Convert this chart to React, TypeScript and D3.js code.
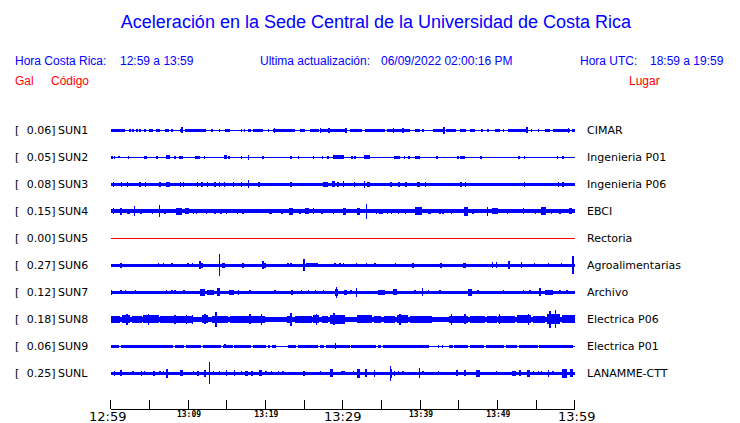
import React from "react";
import * as d3 from "d3";

type Seg = [number, number, number]; // [start minute, end minute, half-amplitude in Gal]

const STATIONS = ["SUN1", "SUN2", "SUN3", "SUN4", "SUN5", "SUN6", "SUN7", "SUN8", "SUN9", "SUNL"];
const PEAKS = ["0.06", "0.05", "0.08", "0.15", "0.00", "0.27", "0.12", "0.18", "0.06", "0.25"];
const PLACES = ["CIMAR", "Ingenieria P01", "Ingenieria P06", "EBCI", "Rectoria", "Agroalimentarias", "Archivo", "Electrica P06", "Electrica P01", "LANAMME-CTT"];
const BASE_AMP = [0.013, 0.013, 0.043, 0.05, 0, 0.043, 0.043, 0.07, 0.018, 0.043];

const SUN1: Seg[] = [[0,1.85,0.033],[2.5,2.5,0.033],[2.9,2.9,0.033],[3.4,3.4,0.033],[3.8,3.8,0.033],[4.35,4.4,0.033],[4.9,5.5,0.033],[5.9,6.4,0.033],[7.0,7.5,0.033],[7.9,7.9,0.033],[9.0,9.4,0.033],[9.2,9.2,0.075],[9.6,12.0,0.033],[12.2,12.2,0.033],[13.1,13.1,0.033],[14.1,14.1,0.033],[14.8,15.4,0.033],[16.9,16.9,0.033],[17.3,17.3,0.033],[17.7,18.2,0.033],[18.4,19.7,0.033],[20.4,20.4,0.033],[21.0,23.8,0.033],[21.2,21.2,0.063],[24.5,25.1,0.033],[25.8,26.9,0.033],[27.1,30.3,0.033],[27.1,27.1,0.063],[28.2,28.2,0.063],[30.4,30.4,0.063],[30.9,32.5,0.033],[32.9,35.5,0.033],[35.7,38.7,0.033],[36.6,36.6,0.063],[37.8,37.8,0.063],[39.4,40.0,0.033],[40.4,40.4,0.033],[41.7,43.0,0.033],[43.1,43.1,0.088],[43.4,44.7,0.033],[45.2,46.0,0.033],[46.5,47.1,0.033],[48.0,48.0,0.033],[48.8,48.8,0.033],[49.7,50.3,0.033],[50.8,50.8,0.033],[51.4,53.7,0.033],[53.8,53.8,0.075],[54.4,54.4,0.033],[55.3,55.3,0.033],[56.2,56.8,0.033],[57.2,59.4,0.033],[59.2,59.2,0.063],[59.6,60,0.033]];
const SUN2: Seg[] = [[0.2,0.2,0.033],[0.5,0.5,0.033],[1.1,1.1,0.025],[2.3,2.3,0.033],[4.35,4.65,0.033],[6.0,6.0,0.033],[7.1,7.7,0.05],[8.3,8.3,0.033],[8.8,9.4,0.033],[10.9,11.55,0.033],[12.1,12.1,0.033],[14.6,15.0,0.05],[15.3,15.3,0.033],[16.9,16.9,0.033],[17.8,17.8,0.063],[19.7,19.7,0.033],[23.3,23.3,0.033],[24.3,24.3,0.033],[26.2,26.2,0.033],[27.4,27.4,0.033],[28.1,28.1,0.033],[28.7,30.2,0.05],[31.2,31.2,0.033],[31.6,31.6,0.033],[32.7,33.5,0.05],[36.6,37.4,0.033],[38.0,38.0,0.033],[38.6,38.6,0.033],[39.4,40.0,0.033],[42.2,42.2,0.033],[44.9,44.9,0.033],[45.2,45.8,0.033],[47.9,47.9,0.033],[52.8,52.8,0.033],[53.5,53.5,0.033],[57.8,57.8,0.033],[58.5,58.5,0.033]];
const SUN3: Seg[] = [[0.35,0.35,0.063],[1.4,1.4,0.063],[2.2,2.2,0.063],[3.8,3.8,0.063],[4.5,4.5,0.063],[6.2,6.5,0.063],[7.2,7.7,0.063],[9.0,9.0,0.063],[9.4,9.4,0.063],[11.25,11.25,0.063],[11.8,11.8,0.063],[12.5,12.5,0.063],[13.5,13.5,0.063],[14.1,14.1,0.063],[14.6,14.8,0.063],[15.9,15.9,0.063],[16.9,16.9,0.063],[17.8,17.8,0.1],[19.2,19.2,0.063],[23.3,23.3,0.063],[27.5,28.1,0.063],[28.6,29.0,0.075],[29.4,29.4,0.063],[30.0,30.2,0.075],[31.5,31.5,0.063],[32.8,32.8,0.088],[33.1,33.5,0.063],[36.25,36.25,0.063],[37.2,37.4,0.063],[38.0,38.3,0.063],[39.6,40.0,0.063],[40.7,40.7,0.063],[45.3,45.3,0.063],[45.9,45.9,0.063],[53.5,53.5,0.063],[57.9,57.9,0.063],[58.5,58.5,0.063]];
const SUN4: Seg[] = [[0.35,0.35,0.075],[1.2,1.5,0.088],[2.1,2.5,0.063],[3.1,3.1,0.125],[3.9,3.9,0.063],[5.4,5.4,0.063],[6.3,6.3,0.15],[7.0,7.0,0.063],[8.5,9.2,0.088],[9.6,10.1,0.075],[10.7,10.7,0.063],[11.1,11.1,0.063],[12.4,12.4,0.063],[13.5,13.5,0.063],[14.1,14.4,0.063],[15.0,15.0,0.063],[16.4,16.4,0.063],[17.1,17.1,0.063],[20.6,20.6,0.063],[20.8,20.8,0.063],[22.0,22.3,0.063],[23.1,23.6,0.088],[24.5,24.5,0.063],[25.1,25.6,0.075],[26.2,26.2,0.075],[27.3,27.3,0.063],[28.8,28.8,0.063],[30.1,30.4,0.088],[31.8,32.2,0.088],[33.1,33.1,0.188],[34.4,34.4,0.063],[34.8,34.8,0.063],[35.1,35.1,0.063],[35.8,35.8,0.063],[36.3,36.3,0.063],[37.2,37.2,0.063],[38.1,38.1,0.063],[39.35,40.2,0.1],[41.0,41.4,0.063],[42.6,42.6,0.063],[43.0,43.0,0.063],[44.1,44.1,0.063],[45.7,46.25,0.113],[46.7,47.0,0.063],[48.75,48.75,0.113],[49.3,50.1,0.075],[51.3,51.3,0.063],[53.4,53.4,0.075],[54.9,54.9,0.063],[55.7,56.25,0.1],[57.0,57.0,0.063],[58.1,58.1,0.063],[59.2,59.6,0.075]];
const SUN5: Seg[] = [];
const SUN6: Seg[] = [[1.3,1.3,0.063],[6.2,6.2,0.05],[6.8,6.8,0.05],[7.9,7.9,0.05],[10.0,10.0,0.05],[10.6,10.6,0.05],[11.55,11.55,0.1],[11.8,11.8,0.063],[14.1,14.1,0.275],[14.45,14.8,0.063],[17.1,17.1,0.063],[19.7,19.7,0.1],[19.95,19.95,0.063],[22.9,22.9,0.05],[23.3,23.3,0.05],[24.9,25.1,0.15],[25.3,26.85,0.05],[29.0,29.0,0.05],[29.65,29.65,0.05],[30.1,30.1,0.05],[31.8,31.8,0.05],[33.1,33.1,0.05],[34.2,34.2,0.05],[36.85,36.85,0.05],[39.0,39.2,0.063],[42.7,42.7,0.063],[45.6,45.9,0.063],[49.35,49.35,0.075],[49.9,49.9,0.075],[51.5,51.5,0.1],[53.15,53.15,0.075],[54.8,54.8,0.05],[56.6,56.6,0.05],[58.3,58.3,0.05],[59.8,59.8,0.225]];
const SUN7: Seg[] = [[0.1,0.1,0.063],[1.3,1.3,0.05],[1.9,1.9,0.05],[3.2,3.2,0.05],[7.2,7.2,0.05],[7.9,7.9,0.05],[8.3,8.3,0.05],[9.5,9.5,0.05],[11.55,12.2,0.088],[12.4,13.3,0.063],[13.7,14.1,0.1],[15.3,15.9,0.063],[16.4,16.6,0.063],[18.0,18.0,0.05],[21.25,21.25,0.05],[23.3,23.6,0.063],[24.7,24.7,0.05],[25.6,25.6,0.05],[26.5,26.5,0.05],[27.5,27.5,0.05],[29.0,29.4,0.088],[29.2,29.2,0.138],[30.2,30.5,0.063],[31.1,31.1,0.05],[31.8,31.8,0.113],[34.5,35.5,0.063],[36.55,37.0,0.075],[39.35,39.35,0.05],[40.2,40.4,0.1],[41.1,41.1,0.05],[42.6,42.6,0.05],[46.25,46.7,0.088],[47.5,47.5,0.05],[50.8,50.8,0.05],[53.4,53.4,0.05],[54.2,54.2,0.05],[55.5,55.5,0.1],[56.1,57.2,0.063],[58.1,58.1,0.05],[59.0,59.0,0.05]];
const SUN8: Seg[] = [[0,1.2,0.088],[1.4,2.5,0.1],[2.1,2.1,0.138],[2.7,4.0,0.08],[4.2,6.2,0.1],[4.9,4.9,0.138],[6.4,7.9,0.08],[7.9,10.5,0.08],[8.3,8.3,0.113],[9.8,9.8,0.113],[10.6,10.6,0.113],[11.8,12.6,0.1],[12.2,12.2,0.125],[13.1,15.2,0.088],[13.6,13.6,0.188],[15.4,17.4,0.088],[17.4,20.0,0.088],[18.0,18.0,0.125],[19.5,19.5,0.138],[22.8,23.4,0.088],[23.3,23.3,0.163],[23.8,26.0,0.08],[26.2,26.9,0.1],[26.6,26.6,0.138],[27.3,28.1,0.08],[28.4,30.3,0.113],[28.9,28.9,0.15],[31.8,33.75,0.1],[34.0,35.0,0.088],[35.3,36.8,0.08],[37.0,38.5,0.1],[37.4,37.4,0.138],[38.7,41.5,0.088],[43.7,46.25,0.088],[44.1,44.1,0.138],[45.8,45.8,0.125],[46.5,48.4,0.088],[48.6,49.9,0.08],[50.1,52.3,0.088],[50.3,50.3,0.125],[52.5,54.4,0.1],[54.0,54.0,0.138],[54.65,56.2,0.08],[56.4,58.1,0.125],[56.8,56.8,0.213],[57.5,57.5,0.225],[58.3,60,0.1]];
const SUN9: Seg[] = [[0,1.1,0.035],[1.35,8.0,0.035],[8.25,9.5,0.035],[9.75,11.7,0.035],[11.9,14.25,0.035],[14.5,15.8,0.035],[16.0,18.15,0.035],[18.35,20.1,0.035],[20.3,20.65,0.035],[20.8,21.4,0.035],[22.9,24.0,0.035],[24.2,26.8,0.035],[27.0,27.6,0.035],[27.85,30.9,0.035],[31.1,34.3,0.035],[34.5,34.95,0.035],[35.2,41.2,0.035],[43.75,44.2,0.035],[44.4,46.15,0.035],[46.4,48.3,0.035],[48.5,50.9,0.035],[51.1,52.6,0.035],[52.8,55.2,0.035],[55.4,59.75,0.035],[14.8,14.8,0.05],[29.1,29.1,0.075],[42.4,42.4,0.035],[42.9,42.9,0.035]];
const SUNL: Seg[] = [[0.5,0.5,0.063],[1.3,1.3,0.075],[2.9,2.9,0.05],[4.0,4.0,0.063],[4.4,4.4,0.05],[5.5,5.7,0.063],[6.4,6.4,0.05],[6.8,6.8,0.05],[7.3,7.3,0.113],[9.0,9.4,0.075],[10.7,10.7,0.05],[11.1,11.4,0.063],[12.1,12.3,0.088],[12.75,12.75,0.275],[13.3,13.3,0.05],[14.1,14.1,0.05],[15.0,15.0,0.075],[15.9,16.1,0.075],[16.9,16.9,0.05],[17.4,17.8,0.063],[18.2,18.4,0.063],[19.2,19.5,0.075],[20.1,20.1,0.05],[20.8,20.8,0.05],[21.7,21.7,0.05],[22.3,22.3,0.05],[25.0,25.0,0.063],[27.1,27.1,0.05],[28.4,28.7,0.1],[29.9,29.9,0.05],[30.2,30.2,0.05],[31.4,31.4,0.05],[31.8,32.2,0.113],[32.9,33.1,0.1],[34.1,34.1,0.088],[36.1,36.4,0.113],[36.2,36.2,0.188],[36.7,36.7,0.063],[37.2,37.2,0.05],[37.8,37.8,0.05],[39.9,39.9,0.125],[40.4,40.4,0.05],[42.4,42.4,0.05],[44.6,44.95,0.075],[45.8,45.8,0.075],[47.3,47.75,0.088],[49.9,49.9,0.05],[51.85,52.4,0.063],[52.9,52.9,0.075],[53.8,54.2,0.088],[54.65,54.65,0.05],[55.3,55.3,0.05],[55.7,55.7,0.05],[56.6,56.6,0.088],[57.2,57.2,0.05],[58.4,59.0,0.113],[59.4,59.8,0.1]];
const EVENTS: Seg[][] = [SUN1, SUN2, SUN3, SUN4, SUN5, SUN6, SUN7, SUN8, SUN9, SUNL];

const TICK_MINUTES = d3.range(0, 61, 5);
const MAJOR_LABEL_MINUTES = [0, 30, 60];
const MINOR_LABEL_MINUTES = [10, 20, 40, 50];
const START_LOCAL = new Date(2022, 5, 9, 12, 59);

const TITLE = "Aceleración en la Sede Central de la Universidad de Costa Rica";

export default function App() {
  const W = 740, H = 423;
  const x = d3.scaleLinear().domain([0, 60]).range([110.7, 574.7]);
  const y = d3.scalePoint<string>().domain(STATIONS).range([130.3, 373.3]);
  const a = d3.scaleLinear().domain([0, 0.275]).range([0, 11]);
  const fmt = d3.timeFormat("%H:%M");
  const lab = (m: number) => fmt(d3.timeMinute.offset(START_LOCAL, m));
  const blue = "#0000ff";
  const hdr = { fontFamily: "'Liberation Sans', Arial, sans-serif", fontSize: 12 };
  const lbl = { fontFamily: "'DejaVu Sans', sans-serif", fontSize: 11 };
  const axisY = 409;

  return (
    <svg width={W} height={H} style={{ position: "absolute", left: 0, top: 0, background: "#fff" }}>
      <rect width={W} height={H} fill="#fff" />
      <text x={376} y={28} textAnchor="middle" fill={blue} style={{ fontFamily: "'Liberation Sans', Arial, sans-serif", fontSize: 18 }}>{TITLE}</text>
      <g fill={blue} style={hdr}>
        <text x={15} y={65}>Hora Costa Rica:</text>
        <text x={120} y={65}>{lab(0)} a {lab(60)}</text>
        <text x={260} y={65}>Ultima actualización:</text>
        <text x={381} y={65}>06/09/2022 02:00:16 PM</text>
        <text x={580} y={65}>Hora UTC:</text>
        <text x={650} y={65}>18:59 a 19:59</text>
      </g>
      <g fill="#ff0000" style={hdr}>
        <text x={15} y={85}>Gal</text>
        <text x={51} y={85}>Código</text>
        <text x={629} y={85}>Lugar</text>
      </g>
      {STATIONS.map((s, i) => {
        const cy = y(s)!;
        const base = a(BASE_AMP[i]);
        const color = i === 4 ? "#ff0000" : blue;
        return (
          <g key={s}>
            <g style={lbl} fill="#000">
              <text x={15} y={cy + 4}>[</text>
              <text x={55.5} y={cy + 4} textAnchor="end">{PEAKS[i]}]</text>
              <text x={58} y={cy + 4}>{s}</text>
              <text x={587} y={cy + 4}>{PLACES[i]}</text>
            </g>
            <g fill={color} shapeRendering="crispEdges">
              <rect x={x(0)} width={x(60) - x(0)} y={cy - Math.max(base, 0.5)} height={Math.max(2 * base, 1)} />
              {EVENTS[i].map((e, j) => {
                const x0 = x(e[0]);
                const w = Math.max(x(e[1]) - x0, 1.5);
                const h = a(e[2]);
                return <rect key={j} x={x0 - (e[1] === e[0] ? 0.75 : 0)} width={w} y={cy - h} height={2 * h} />;
              })}
            </g>
          </g>
        );
      })}
      <g stroke="#000" shapeRendering="crispEdges">
        <line x1={x(0)} x2={x(60)} y1={axisY} y2={axisY} />
        {TICK_MINUTES.map((m) => (
          <line key={m} x1={x(m)} x2={x(m)} y1={axisY - 9} y2={axisY} />
        ))}
      </g>
      <g fill="#000" textAnchor="middle">
        {MAJOR_LABEL_MINUTES.map((m) => (
          <text key={m} x={x(m) - (m === 0 ? 3 : m === 60 ? -2 : 0)} y={421} style={{ fontFamily: "'DejaVu Sans', sans-serif", fontSize: 13 }}>{lab(m)}</text>
        ))}
        {MINOR_LABEL_MINUTES.map((m) => (
          <text key={m} x={x(m) + 1} y={417} style={{ fontFamily: "'DejaVu Sans Mono', monospace", fontSize: 8, fontWeight: "bold" }}>{lab(m)}</text>
        ))}
      </g>
    </svg>
  );
}
